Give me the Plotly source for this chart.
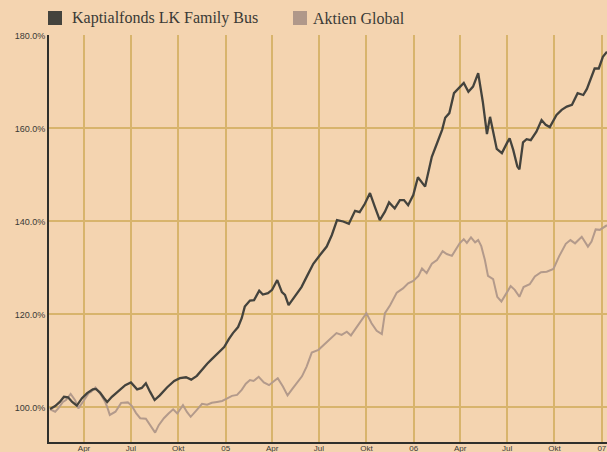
import plotly.graph_objects as go

# ---- data -------------------------------------------------------------
fonds_dates = [
    "2004-01-26", "2004-02-05", "2004-02-14", "2004-02-22", "2004-03-01", "2004-03-09",
    "2004-03-18", "2004-03-28", "2004-04-07", "2004-04-18", "2004-04-24", "2004-05-02",
    "2004-05-10", "2004-05-16", "2004-05-25", "2004-06-06", "2004-06-20", "2004-07-01",
    "2004-07-13", "2004-07-22", "2004-07-30", "2004-08-07", "2004-08-16", "2004-08-26",
    "2004-09-09", "2004-09-23", "2004-10-04", "2004-10-16", "2004-10-26", "2004-11-06",
    "2004-11-16", "2004-11-26", "2004-12-05", "2004-12-17", "2004-12-29", "2005-01-07",
    "2005-01-15", "2005-01-25", "2005-02-01", "2005-02-07", "2005-02-17", "2005-02-25",
    "2005-03-07", "2005-03-14", "2005-03-24", "2005-04-01", "2005-04-11", "2005-04-20",
    "2005-04-26", "2005-05-03", "2005-05-15", "2005-05-28", "2005-06-08", "2005-06-20",
    "2005-07-03", "2005-07-16", "2005-07-26", "2005-08-05", "2005-08-17", "2005-08-28",
    "2005-09-09", "2005-09-18", "2005-09-28", "2005-10-08", "2005-10-18", "2005-10-27",
    "2005-11-06", "2005-11-14", "2005-11-25", "2005-12-05", "2005-12-13", "2005-12-21",
    "2005-12-31", "2006-01-09", "2006-01-23", "2006-02-05", "2006-02-14", "2006-02-25",
    "2006-03-03", "2006-03-11", "2006-03-20", "2006-03-31", "2006-04-08", "2006-04-17",
    "2006-04-26", "2006-05-06", "2006-05-15", "2006-05-23", "2006-05-29", "2006-06-11",
    "2006-06-21", "2006-07-01", "2006-07-06", "2006-07-13", "2006-07-21", "2006-07-25",
    "2006-08-01", "2006-08-08", "2006-08-16", "2006-08-27", "2006-09-06", "2006-09-14",
    "2006-09-22", "2006-10-05", "2006-10-15", "2006-10-25", "2006-11-04", "2006-11-15",
    "2006-11-26", "2006-12-03", "2006-12-11", "2006-12-18", "2006-12-26", "2007-01-03",
    "2007-01-11",
]
fonds_values = [
    99.7, 100.3, 101.2, 102.3, 102.2, 101.2,
    100.4, 102.0, 103.1, 103.9, 104.0, 103.2,
    102.0, 101.2, 102.3, 103.5, 104.8, 105.4,
    103.9, 104.2, 105.2, 103.4, 101.6, 102.6,
    104.3, 105.7, 106.3, 106.5, 106.0, 106.8,
    108.2, 109.4, 110.4, 111.7, 113.0, 114.7,
    116.0, 117.3, 119.2, 121.7, 123.0, 123.1,
    125.1, 124.3, 124.6, 125.3, 127.4, 124.8,
    124.2, 122.0, 123.8, 125.9, 128.3, 130.9,
    132.8, 134.6, 137.1, 140.3, 140.0, 139.5,
    142.3, 142.0, 143.8, 146.1, 143.0, 140.3,
    142.1, 144.1, 142.8, 144.6, 144.6, 143.5,
    145.7, 149.5, 147.5, 153.9, 156.5, 159.7,
    162.3, 163.3, 167.6, 169.0, 169.8, 167.9,
    169.0, 171.9, 165.7, 158.8, 162.5, 155.6,
    154.7, 156.9, 157.9, 155.4, 151.8, 151.2,
    157.0, 157.7, 157.5, 159.3, 161.8, 160.8,
    160.3, 162.9, 164.0, 164.7, 165.1, 167.6,
    167.2, 168.5, 170.9, 172.9, 172.9, 175.4,
    176.5,
]

global_dates = [
    "2004-01-26", "2004-02-05", "2004-02-11", "2004-02-20", "2004-02-26", "2004-03-06",
    "2004-03-15", "2004-03-21", "2004-03-31", "2004-04-10", "2004-04-15", "2004-04-23",
    "2004-05-03", "2004-05-12", "2004-05-16", "2004-05-21", "2004-06-01", "2004-06-12",
    "2004-06-25", "2004-07-03", "2004-07-11", "2004-07-19", "2004-07-30", "2004-08-09",
    "2004-08-17", "2004-08-24", "2004-09-03", "2004-09-12", "2004-09-21", "2004-09-29",
    "2004-10-10", "2004-10-18", "2004-10-25", "2004-11-06", "2004-11-16", "2004-11-26",
    "2004-12-05", "2004-12-15", "2004-12-25", "2005-01-03", "2005-01-13", "2005-01-23",
    "2005-02-01", "2005-02-09", "2005-02-17", "2005-02-24", "2005-03-06", "2005-03-16",
    "2005-03-26", "2005-04-05", "2005-04-12", "2005-04-22", "2005-05-01", "2005-05-11",
    "2005-05-20", "2005-05-29", "2005-06-07", "2005-06-17", "2005-06-30", "2005-07-13",
    "2005-07-26", "2005-08-04", "2005-08-14", "2005-08-24", "2005-09-01", "2005-09-12",
    "2005-09-22", "2005-10-01", "2005-10-11", "2005-10-21", "2005-10-31", "2005-11-06",
    "2005-11-16", "2005-11-29", "2005-12-11", "2005-12-21", "2005-12-31", "2006-01-10",
    "2006-01-17", "2006-01-26", "2006-02-05", "2006-02-15", "2006-02-26", "2006-03-06",
    "2006-03-16", "2006-03-25", "2006-03-31", "2006-04-08", "2006-04-14", "2006-04-22",
    "2006-04-30", "2006-05-06", "2006-05-12", "2006-05-19", "2006-05-25", "2006-06-04",
    "2006-06-12", "2006-06-20", "2006-06-30", "2006-07-08", "2006-07-16", "2006-07-25",
    "2006-08-02", "2006-08-14", "2006-08-24", "2006-09-05", "2006-09-16", "2006-09-29",
    "2006-10-10", "2006-10-23", "2006-11-01", "2006-11-10", "2006-11-23", "2006-12-05",
    "2006-12-12", "2006-12-20", "2006-12-28", "2007-01-11",
]
global_values = [
    99.6, 99.1, 99.8, 101.2, 101.6, 102.9,
    101.5, 99.8, 101.4, 103.1, 103.4, 104.3,
    102.9, 101.2, 100.1, 98.4, 99.1, 101.0,
    101.1, 100.3, 98.8, 97.7, 97.6, 96.0,
    94.6, 96.2, 97.7, 98.7, 99.6, 98.7,
    100.5, 99.0, 98.0, 99.5, 100.8, 100.6,
    101.0, 101.2, 101.4, 101.9, 102.5, 102.7,
    103.8, 105.1, 105.9, 105.7, 106.6, 105.4,
    104.8, 105.7, 106.3, 104.5, 102.6, 104.1,
    105.5, 106.7, 108.8, 111.8, 112.4, 113.8,
    115.2, 116.0, 115.6, 116.3, 115.5, 117.2,
    118.8, 120.3, 118.1, 116.5, 115.8, 120.3,
    122.0, 124.7, 125.6, 126.7, 127.2, 128.3,
    129.9, 128.9, 130.9, 131.7, 133.6, 133.0,
    132.6, 134.2, 135.3, 136.2, 135.4, 136.6,
    135.5, 136.0, 134.7, 131.7, 128.3, 127.6,
    123.8, 122.8, 124.7, 126.1, 125.3, 123.8,
    125.9, 126.5, 128.2, 129.1, 129.2, 129.8,
    132.5, 135.2, 136.0, 135.3, 136.7, 134.6,
    135.7, 138.3, 138.2, 139.2,
]

series_names = ["Kaptialfonds LK Family Bus", "Aktien Global"]
x_tick_dates = ["2004-04-01", "2004-07-01", "2004-10-01", "2005-01-01",
                "2005-04-01", "2005-07-01", "2005-10-01", "2006-01-01",
                "2006-04-01", "2006-07-01", "2006-10-01", "2007-01-01"]
x_tick_labels = ["Apr", "Jul", "Okt", "05", "Apr", "Jul", "Okt", "06",
                 "Apr", "Jul", "Okt", "07"]
y_tick_values = [100, 120, 140, 160, 180]
y_tick_labels = ["100.0%", "120.0%", "140.0%", "160.0%", "180.0%"]

# ---- styling ----------------------------------------------------------
BG = "#f4d4b0"
DARK = "#44433d"
LIGHT = "#b39a8b"
GRID = "#d8b46c"

W, H = 607, 452
M_L, M_R, M_T, M_B = 49, 0, 35, 10
plot_w = W - M_L - M_R
plot_h = H - M_T - M_B

fig = go.Figure()
fig.add_trace(go.Scatter(x=global_dates, y=global_values, mode="lines",
                         name=series_names[1],
                         line=dict(color=LIGHT, width=2), showlegend=False))
fig.add_trace(go.Scatter(x=fonds_dates, y=fonds_values, mode="lines",
                         name=series_names[0],
                         line=dict(color=DARK, width=2.3), showlegend=False))

# legend drawn as squares + text above plot
def px_to_paper_x(px):
    return (px - M_L) / plot_w

def px_to_paper_y(py):
    return (H - M_B - py) / plot_h

legend_items = [(48, 70, series_names[0], DARK), (293, 311, series_names[1], "#b0988a")]
for sq_x, tx, label, col in legend_items:
    fig.add_shape(type="rect", xref="paper", yref="paper",
                  x0=px_to_paper_x(sq_x), x1=px_to_paper_x(sq_x + 14),
                  y0=px_to_paper_y(25), y1=px_to_paper_y(11),
                  fillcolor=col, line=dict(width=0), layer="above")
    fig.add_annotation(xref="paper", yref="paper",
                       x=px_to_paper_x(tx), y=px_to_paper_y(18),
                       xanchor="left", yanchor="middle", showarrow=False,
                       text=label,
                       font=dict(family="Liberation Serif, Times New Roman, serif",
                                 size=16, color="#3a3a36"))

fig.update_layout(
    width=W, height=H,
    margin=dict(l=M_L, r=M_R, t=M_T, b=M_B, autoexpand=False),
    paper_bgcolor=BG, plot_bgcolor=BG,
    showlegend=False,
)
fig.update_xaxes(
    type="date",
    range=["2004-01-24", "2007-01-11"],
    tickmode="array", tickvals=x_tick_dates, ticktext=x_tick_labels,
    showgrid=True, gridcolor=GRID, gridwidth=1.5,
    showline=True, linecolor="#2f2f2b", linewidth=2,
    ticks="", automargin=False, ticklabelstandoff=-3,
    tickfont=dict(family="Liberation Sans, Arial, sans-serif", size=8, color="#3a3a36"),
    zeroline=False,
)
fig.update_yaxes(
    range=[92.58, 180.1],
    tickmode="array", tickvals=y_tick_values, ticktext=y_tick_labels,
    showgrid=True, gridcolor=GRID, gridwidth=1.5,
    showline=True, linecolor="#2f2f2b", linewidth=2,
    ticks="", automargin=False,
    tickfont=dict(family="Liberation Sans, Arial, sans-serif", size=9, color="#3a3a36"),
    zeroline=False,
)

fig.write_html(
    "out.html",
    config={"displayModeBar": False},
    post_script="document.body.style.margin='0';document.body.style.overflow='hidden';",
)
